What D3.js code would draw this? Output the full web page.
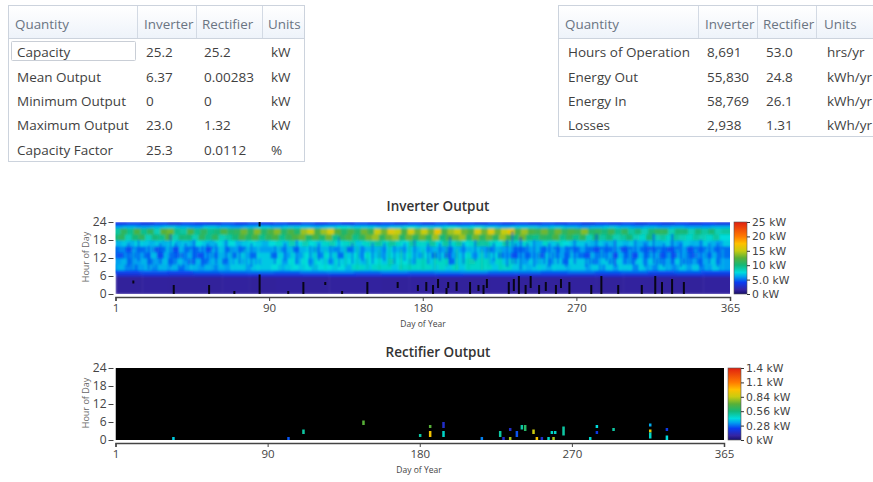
<!DOCTYPE html>
<html><head><meta charset="utf-8">
<script src="https://cdnjs.cloudflare.com/ajax/libs/d3/7.8.5/d3.min.js"></script>
<style>html,body{margin:0;padding:0;background:#fff;overflow:hidden}svg{display:block}text{font-family:"Open Sans",sans-serif}</style>
</head><body><svg id="c" width="873" height="482"></svg>
<script>
const leftHeader=["Quantity","Inverter","Rectifier","Units"];
const leftRows=[["Capacity","25.2","25.2","kW"],["Mean Output","6.37","0.00283","kW"],["Minimum Output","0","0","kW"],["Maximum Output","23.0","1.32","kW"],["Capacity Factor","25.3","0.0112","%"]];
const rightHeader=["Quantity","Inverter","Rectifier","Units"];
const rightRows=[["Hours of Operation","8,691","53.0","hrs/yr"],["Energy Out","55,830","24.8","kWh/yr"],["Energy In","58,769","26.1","kWh/yr"],["Losses","2,938","1.31","kWh/yr"]];
const dayTicks=[1,90,180,270,365];
const hourTicks=[0,6,12,18,24];
const inverterLegend=["0 kW","5.0 kW","10 kW","15 kW","20 kW","25 kW"];
const rectifierLegend=["0 kW","0.28 kW","0.56 kW","0.84 kW","1.1 kW","1.4 kW"];
const colorKw=[0,1.5,4,6,7.5,10,12.5,15,17.5,20,25];
const colorHex=["#16106a","#3524a2","#0a3cf0","#00a0f0","#00dcdc","#14b878","#58b038","#c8cc10","#ffc000","#ff7a00","#e02010"];

const hour0to6=[1.3,1.4,1.3,1.3,1.4,1.3,1.4,1.3,1.4,1.4,1.3,1.4,1.3,1.3,1.4,1.3,1.3,1.4,1.3,1.4,1.3,1.3,1.4];
const hour6to7=[3,3.2,3,3.1,3.3,3.4,3.3,3.5,3.6,3.5,3.6,3.5,3.6,3.4,3.5,3.3,3.4,3.2,3.3,3.2,3.1,3.2,3.1];
const hour7to8=[4.2,4.6,4.3,4.8,5,5.2,4.9,5.4,5.6,5.1,5.6,5.2,5.5,5.7,5.1,5.2,4.8,5.2,4.7,5,4.5,4.8,4.4];
const hour8to10=[6,6.5,5.5,5,6,6.5,5.5,6.5,6,6.5,5,6,6.5,6,6.5,5.5,6.5,6,7,7,6,7,7,7,7.5,6.5,7,7.5,7,7.5,6.5,7.5,7.5,7,7.5,6.5,8,8,7,8,8,8,7,8,8,8,8,8,7,8,7,8,7,8,8,8,8,7,8,8,7,7,6.5,7,7,6.5,7,7,6.5,7,7,6,7,5.5,7,6,7,7,5.5,7,6,5.5,7,6,5.5,7,6,7,5.5,6,7,6];
const hour10to12=[6,6.5,5,6,6.5,5,6,6.5,5,6.5,6,4.5,6.5,5,6,6.5,5,6,7,6,7,6,7,7,7.5,6,7.5,6.5,7.5,6,7.5,7,6,7.5,7,7.5,7,6.5,7.5,7.5,7,8.5,7.5,7.5,6.5,8,8,7,8,8,5,7,8,8.5,8,8,6.5,8,7,8,7,6,7,6,7,5.5,7,5,7,7,7,5,6,7,5,7,6,5,7,6,7,5,6,5.5,7,5,6,5,6,7,5.5,6];
const hour12to14=[5,4.5,5.5,5,6,5,6.5,4.5,6,5,4.5,6,5,4.5,6,5,6,6.5,5,7,6,5,7,7,5,7,6,7,6,7.5,7,5.5,7.5,7,5,7,7.5,6,7.5,7,6,7,7.5,7,7.5,7,6,7.5,5,7,4.5,6,7,7.5,6,7,6,7.5,5,6,4.5,6,5,6,4.5,7,5,6,5,6,5,4.5,6,5,6,4.5,6,5,4.5,6,5,6,4.5,5,4.5,6,5,4.5,6,5,6,5];
const hour14to16=[5,5.5,4.5,5.5,5,6,4.5,5,6.5,4.5,6,5,5,6,4.5,6,6.5,5,6,5,6.5,6,6,6,6.5,5.5,6.5,5,6.5,7,5.5,6.5,6.5,5.5,6.5,5,6.5,6,6.5,6.5,6,7,6.5,6,7,6.5,7,6,6.5,6,5,6.5,6,6.5,7,6,5,6.5,6,6.5,5,5,6,6.5,5,6,5,6,5,5,6,5,4.5,5,5,6,4.5,5,6,5,4.5,5,5,4.5,5,6,4.5,5,5,6,5,5];
const hour16to18=[6.5,7,6.5,7.5,7,6.5,7,6.5,7.5,6.5,7,6.5,7.5,7,6.5,7.5,7,7.5,6.5,7,7.5,7,6.5,7.5,8,7,8.5,7.5,8.5,7.5,7,8,8.5,7.5,8,8.5,7,8,8.5,9,8,9,8,7.5,9,8,8,9,7.5,9,8,9,7.5,8,9,9,8,7.5,9,8,7,8,7,6.5,8,7,8,7.5,7,7,7,6.5,7,6.5,6.5,7,6.5,7,6.5,6,7,6.5,7,6.5,6,7,6.5,6.5,7,6.5,6,7];
const hour18to20=[10,11,8.5,10,11,8.5,10,9.5,12,8.5,10,10,8.5,11,9.5,11,8.5,9,10,12,10.5,12,9.5,11,12,9.5,11,12,13,10.5,12,10.5,13,9.5,11,12,9.5,11,13,14,11,13,14,10.5,13,11,13,11,14,10,12,13,14,10.5,13,11,13,11,14,12,10,13,10,9.5,11,10.5,12,9.5,11,9.5,11,8.5,10,9,10,8.5,9,10,8.5,8,10,8.5,9,8,9,8.5,8,9,8.5,8,9,7.5];
const hour20to22=[9,11,9.5,12,9.5,11,8.5,12.5,13,9.5,9,12,9.5,11,9.5,10,12,10.5,11,13,11,13.5,10.5,12,13.5,10.5,12,10.5,14,15,12,14,15.5,12.5,10.5,12,10.5,13,11.5,15,13,16,15,12,15.5,13,15,13,16.5,12,14,15,13,12,15.5,13,16,13,15,16.5,12,14,12,11.5,13,11,13,11,12,11.5,13.5,10.5,11,10,11.5,9.5,11,9,10,8.5,10,11,11,8.5,10,10,8.5,10,9,10,8.5,9];
const hour22to23=[6,6.5,6,6.5,7,6.5,6,7,6.5,6,6.5,7,6.5,7,7,6.5,7,7.5,7,7,6.5,7,7.5,7,7,7.5,7,7.5,7,6.5,7,7,6.5,7,6.5,6,6.5,7,6.5,6,6.5,6,6.5,6,6,6.5];
const hour23to24=[3.8,4.2,3.6,4.2,3.4,4.2,3.8,3.6,4.4,3.8,4.4,3.8,4.3,3.6,4.5,3.8,4.3,3.7,4.4,3.8,4.2,3.6,4.3,3.7,4.4,3.8,4.2,3.6,4.3,3.8,4.2,3.7,4.3,3.8,4.2,3.6,4.1,3.7,4.2,3.6,4,3.6,4.1,3.7,4,3.6];
const inverterBands=[[0,6,hour0to6],[6,7,hour6to7],[7,8,hour7to8],[8,10,hour8to10],[10,12,hour10to12],[12,14,hour12to14],[14,16,hour14to16],[16,18,hour16to18],[18,20,hour18to20],[20,22,hour20to22],[22,23,hour22to23],[23,24,hour23to24]];
const bandShift=[0,0,1.3,2.6,0.7,3.1,1.9,0.3,2.3,1.1,3.4,0.9];
const inverterStreaks=[[8,9,17,4.2],[11,8,15,7.2],[14,11,18,4],[20,8,16,4.2],[23,9,17,7],[27,10,17,4],[30,8,14,7.2],[33,9,20,4.4],[36,10,17,4],[39,9,16,7.4],[42,11,17,4.2],[45,8,15,7.4],[47,10,18,4],[52,9,16,4.2],[55,11,17,4],[58,8,15,7.4],[60,10,17,4.2],[63,9,16,7.6],[66,11,18,4.2],[69,8,16,7.6],[74,10,16,4.2],[77,8,15,7.8],[81,9,17,4.4],[85,8,17,7.6],
[95,10,16,4.4],[98,8,16,7.8],[101,11,17,4.4],[105,8,15,8],[108,10,18,4.2],[112,8,14,8],[116,9,16,4.4],[119,8,17,8.4],[121,11,17,4.4],[125,8,15,8.4],[128,10,16,4.4],[131,8,14,8.2],[133,9,19,5],[137,9,16,8.6],[141,10,17,4.6],[144,8,16,8.8],[147,11,16,4.4],[150,8,14,9],[153,10,17,4.6],[157,8,15,9],[160,11,17,4.4],[163,9,17,9.2],[166,10,16,4.8],[170,8,15,9.4],[172,11,17,4.8],[175,8,16,9.2],[178,10,18,4.6],
[183,8,15,9],[186,10,17,4.6],[190,8,14,9.2],[193,11,17,4.4],[197,9,16,9],[199,10,19,4.6],[203,8,15,9.4],[207,10,17,4.2],[210,8,14,8.8],[214,11,18,4.4],[218,8,15,9.2],[222,9,17,8.6],[225,11,17,4.4],[229,8,15,8.8],[233,9,18,4.2],[236,10,21,4.6],[238,10,17,4],[241,8,19,3.8],[245,11,17,4.2],[249,9,18,4.2],[252,8,14,8],[255,10,16,4.2],[258,9,17,4],[261,8,15,7.6],[263,10,17,4.2],[268,9,16,4.2],[271,8,15,7.6],[273,10,18,4],
[280,9,17,4.2],[283,8,14,7.4],[286,10,20,4],[289,8,15,7.4],[292,11,17,4.2],[295,8,14,7.2],[297,9,18,3.8],[300,8,15,7.4],[303,10,16,4],[306,8,15,7.2],[309,11,18,4],[312,8,14,7.4],[315,9,17,3.8],[318,8,15,7.2],[320,10,20,3.8],[323,8,15,7.2],[326,9,17,4],[329,8,14,7.2],[331,10,20,3.8],[334,8,15,7.2],[336,9,17,4],[339,8,14,7],[342,10,16,4.2],[345,8,15,7],[348,9,18,4],[351,8,15,7],[353,10,17,4.2],[356,8,14,7],[358,9,17,4.2],[361,8,15,6.8]];
const inverterOutages=[[11,3.5,4.5],[35,0,3],[56,0,3],[71,0,1],[86,0,6.5],[86,22.5,24],[103,0,1],[112,0,4],[125,3,4],[135,0,1],[150,0,4],[168,2,4],[180,1,3],[185,1,4],[189,0,3],[192,2,5],[197,0,2],[198,2,4],[203,1,4],[211,0,4],[216,1,3],[219,0,3],[221,2,5],[234,0,4],[237,1,5],[240,0,6],[244,0,3],[247,2,6],[252,0,3],[256,1,4],[262,0,3],[265,2,5],[270,0,4],[283,0,3],[289,0,6],[299,0,3],[313,0,3],[321,0,6],[325,0,4],[331,0,5],[338,0,4]];
const rectifierEvents=[[35,0,1,0.4],[104,0,1,0.25],[113,2,3.5,0.5],[149,5,6.5,0.7],[183,1,2,0.5],[189,4,5,0.7],[189,1,3,0.95],[197,4,6,0.15],[197,1,3,0.45],[220,0,1,0.3],[231,1,3,0.5],[233,0,1,0.15],[237,3,4,0.15],[237,0,1,0.8],[241,1,3,0.25],[244,3.5,5,0.5],[246,3,5,0.6],[251,2,3.5,0.85],[253,0,1,0.95],[256,0,1,0.15],[260,0,1,0.45],[262,2,3,0.45],[263,0,1,0.8],[264,2,3,0.45],[269,1.5,4.5,0.5],[285,0,1,0.45],[289,4,5,0.42],[289,2,3,0.2],[299,3,4,0.5],[321,4.5,5.5,0.35],[321,2.5,3.5,0.9],[321,0.5,2.5,0.45],[331,3,4,0.2],[331,0,1.5,0.42]];

const svg=d3.select("#c");
const defs=svg.append("defs");
const grad=defs.append("linearGradient").attr("id","hdr").attr("x1",0).attr("x2",0).attr("y1",0).attr("y2",1);
grad.append("stop").attr("offset",0).attr("stop-color","#ffffff");
grad.append("stop").attr("offset",1).attr("stop-color","#eef3fa");
[["soft",1.1],["mid",0.75],["streak",0.95]].forEach(([id,sd])=>defs.append("filter").attr("id",id).attr("x","-2%").attr("y","-10%").attr("width","104%").attr("height","120%")
  .append("feGaussianBlur").attr("stdDeviation",sd));

function table(x0,x1,y1,seps,headX,cellX,rowY,header,rows){
  const g=svg.append("g");
  g.append("rect").attr("x",x0+.5).attr("y",5.5).attr("width",x1-x0).attr("height",y1-5).attr("fill","#fff").attr("stroke","#ccd3dd");
  g.append("rect").attr("x",x0+1).attr("y",6).attr("width",x1-x0-1).attr("height",32).attr("fill","url(#hdr)");
  g.append("line").attr("x1",x0).attr("x2",x1).attr("y1",38.5).attr("y2",38.5).attr("stroke","#ccd3dd");
  g.selectAll(".sep").data(seps).join("line").attr("x1",d=>d+.5).attr("x2",d=>d+.5).attr("y1",6).attr("y2",38).attr("stroke","#d3dae4");
  g.selectAll(".h").data(header).join("text").attr("x",(d,i)=>headX[i]).attr("y",29).attr("font-size",13.4).attr("fill","#6a7482").text(d=>d);
  rows.forEach((r,ri)=>{
    g.selectAll(".r"+ri).data(r).join("text").attr("class","r"+ri).attr("x",(d,i)=>cellX[i]).attr("y",rowY[ri]).attr("font-size",13.5).attr("fill","#3f3f3f").text(d=>d);
  });
}
svg.append("rect").attr("width",873).attr("height",482).attr("fill","#fff");
table(8,304,161,[137,196,262],[15,144,202,268],[17,146,204,271],[57,82,106,130,155],leftHeader,leftRows);
svg.append("rect").attr("x",11.5).attr("y",41.5).attr("width",124).attr("height",19).attr("rx",1).attr("fill","none").attr("stroke","#c9ced6");
table(558,880,136,[698,757,816],[565,705,763,824],[568,707,766,827],[57,82,106,130],rightHeader,rightRows);

function panel(o){
  const x=d3.scaleLinear().domain([1,366]).range([o.x0,o.x1]);
  const y=d3.scaleLinear().domain([0,24]).range([o.y1,o.y0]);
  const c=d3.scaleLinear().domain(colorKw.map(v=>v*o.max/25)).range(colorHex);
  const g=svg.append("g");
  g.append("text").attr("x",438).attr("y",o.y0-11).attr("text-anchor","middle").attr("font-size",13.5).attr("font-weight",600).attr("fill","#333").text(o.title);
  const cid="clip"+o.id;
  defs.append("clipPath").attr("id",cid).append("rect").attr("x",o.x0).attr("y",o.y0).attr("width",o.x1-o.x0).attr("height",o.y1-o.y0);
  const plot=g.append("g").attr("clip-path",`url(#${cid})`);
  o.draw(plot,x,y,c);
  const xTick=d3.scalePoint().domain(dayTicks).range([o.x0,o.x1]);
  const ax=g.append("g").attr("transform",`translate(0,${o.y1+3})`).call(d3.axisBottom(xTick).tickSize(4).tickPadding(3));
  ax.select(".domain").attr("stroke","#444").attr("stroke-width",1.5);
  ax.selectAll("line").attr("stroke","#444");
  ax.selectAll("text").attr("font-size",11.5).attr("fill","#444").style("font-family",'"Open Sans",sans-serif');
  const ay=g.append("g").attr("transform",`translate(${o.x0-2},0)`).call(d3.axisLeft(y).tickValues(hourTicks).tickSize(5).tickPadding(2));
  ay.select(".domain").remove();
  ay.selectAll("line").attr("stroke","#444");
  ay.selectAll("text").attr("font-size",12).attr("fill","#444").style("font-family",'"Open Sans",sans-serif');
  g.append("text").attr("x",o.xLabel).attr("y",o.y1+33).attr("text-anchor","middle").attr("font-size",8.5).attr("fill","#444").text("Day of Year");
  g.append("text").attr("transform",`translate(89,${o.y1-37}) rotate(-90)`).attr("text-anchor","middle").attr("font-size",9).attr("fill","#666").text("Hour of Day");
  const lid="lg"+o.id;
  const lg=defs.append("linearGradient").attr("id",lid).attr("x1",0).attr("x2",0).attr("y1",1).attr("y2",0);
  colorKw.forEach((v,i)=>lg.append("stop").attr("offset",v/25).attr("stop-color",colorHex[i]));
  g.append("rect").attr("x",o.lx).attr("y",o.y0).attr("width",13).attr("height",o.y1-o.y0).attr("fill",`url(#${lid})`).attr("stroke","#555").attr("stroke-width",.6);
  const ly=d3.scalePoint().domain(o.legend).range([o.y1,o.y0]);
  const al=g.append("g").attr("transform",`translate(${o.lx+13},0)`).call(d3.axisRight(ly).tickSize(3).tickPadding(2));
  al.select(".domain").remove();
  al.selectAll("line").attr("stroke","#333");
  al.selectAll("text").attr("font-size",10.8).attr("fill","#444").style("font-family",'"DejaVu Sans",sans-serif');
}
panel({id:"a",title:"Inverter Output",x0:115.5,x1:730,y0:222,y1:294,max:25,xLabel:423,lx:734,legend:inverterLegend,
 draw(p,x,y,c){
  const h=p.append("g").attr("filter","url(#soft)");
  inverterBands.forEach(([h0,h1,vals],b)=>{
    const step=365/vals.length, w=x(1+step)-x(1);
    h.append("g").selectAll("rect").data(vals).join("rect")
      .attr("x",(d,i)=>x(1+i*step-bandShift[b]))
      .attr("width",(d,i)=>i===vals.length-1?w+12:w+.5)
      .attr("y",y(h1)).attr("height",y(h0)-y(h1)+.5).attr("fill",d=>c(d));
  });
  p.append("g").attr("filter","url(#streak)").selectAll("rect").data(inverterStreaks).join("rect")
    .attr("x",d=>x(d[0])).attr("width",x(2.4)-x(1))
    .attr("y",d=>y(d[2])).attr("height",d=>y(d[1])-y(d[2])).attr("fill",d=>c(d[3])).attr("fill-opacity",.5);
  p.append("g").attr("filter","url(#mid)").selectAll("rect").data(inverterOutages).join("rect")
    .attr("x",d=>x(d[0])).attr("width",x(2.2)-x(1))
    .attr("y",d=>y(d[2])).attr("height",d=>y(d[1])-y(d[2])).attr("fill","#000").attr("fill-opacity",.85);
 }});
panel({id:"b",title:"Rectifier Output",x0:115.5,x1:724,y0:368,y1:440,max:1.4,xLabel:419,lx:728,legend:rectifierLegend,
 draw(p,x,y,c){
  p.append("rect").attr("x",x(1)).attr("y",y(24)).attr("width",x(366)-x(1)).attr("height",y(0)-y(24)).attr("fill","#000");
  p.append("g").attr("filter","url(#mid)").selectAll("rect").data(rectifierEvents).join("rect")
    .attr("x",d=>x(d[0])).attr("width",x(2.5)-x(1))
    .attr("y",d=>y(d[2])).attr("height",d=>y(d[1])-y(d[2])).attr("fill",d=>c(d[3]));
 }});
</script></body></html>
